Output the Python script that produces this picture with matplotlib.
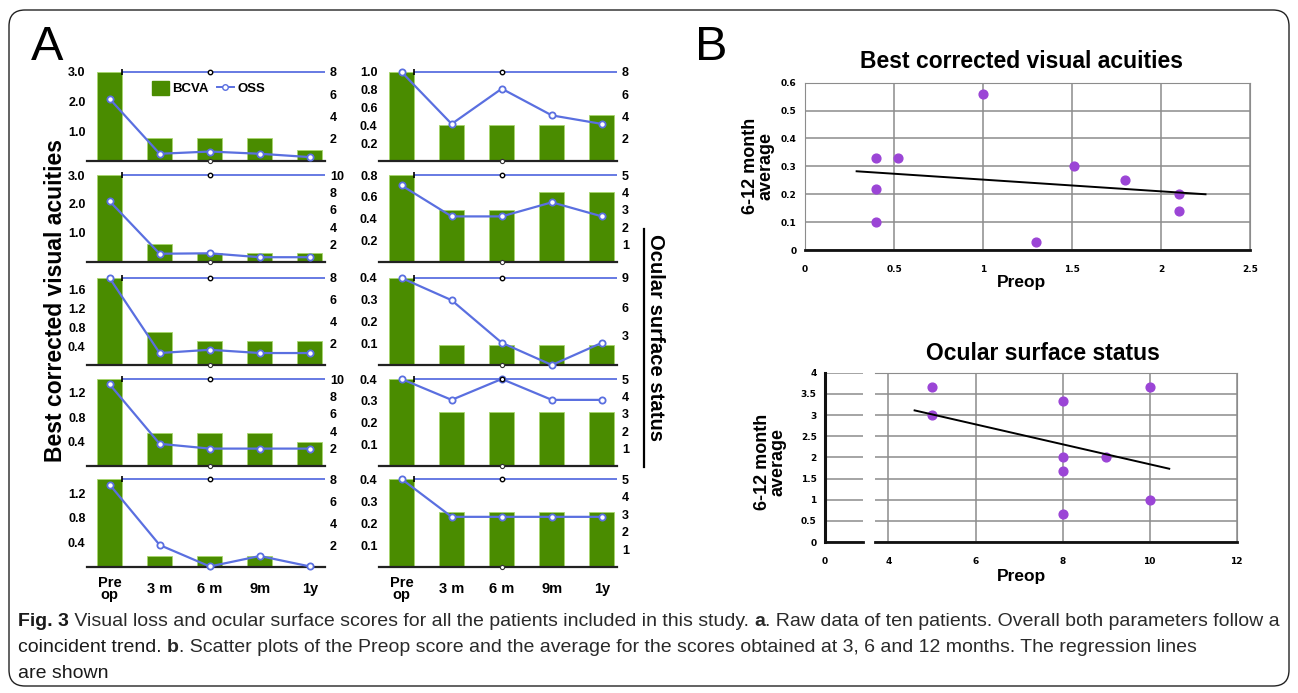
import numpy as np
import matplotlib
matplotlib.use("Agg")
import matplotlib.pyplot as plt
from matplotlib.patches import Patch, FancyBboxPatch
from matplotlib.lines import Line2D

plt.rcParams['font.family'] = ['Liberation Sans', 'DejaVu Sans']

W, H = 1298, 693

# ---- panel A data ----
categories = ['Pre\nop', '3 m', '6 m', '9m', '1y']

bcva_left = [
    [3.0, 0.78, 0.78, 0.78, 0.38],
    [3.0, 0.62, 0.30, 0.30, 0.30],
    [1.85, 0.70, 0.50, 0.50, 0.50],
    [1.43, 0.55, 0.55, 0.55, 0.40],
    [1.43, 0.18, 0.18, 0.18, 0.0],
]
oss_left = [
    [5.6, 0.65, 0.85, 0.65, 0.35],
    [7.0, 0.95, 1.0, 0.55, 0.55],
    [8.0, 1.1, 1.4, 1.1, 1.1],
    [9.4, 2.55, 2.0, 2.0, 2.0],
    [7.5, 2.0, 0.05, 1.0, 0.05],
]
bcva_right = [
    [1.0, 0.40, 0.40, 0.40, 0.52],
    [0.8, 0.48, 0.48, 0.64, 0.64],
    [0.4, 0.09, 0.09, 0.09, 0.09],
    [0.4, 0.25, 0.25, 0.25, 0.25],
    [0.4, 0.25, 0.25, 0.25, 0.25],
]
oss_right = [
    [8.0, 3.33, 6.5, 4.1, 3.33],
    [4.4, 2.62, 2.62, 3.43, 2.62],
    [9.0, 6.7, 2.3, 0.0, 2.3],
    [5.0, 3.8, 5.0, 3.8, 3.8],
    [5.0, 2.85, 2.85, 2.85, 2.85],
]

bcva_top_left = [3.0, 3.0, 1.85, 1.43, 1.43]
bcva_ticks_left = [[1.0, 2.0, 3.0], [1.0, 2.0, 3.0], [0.4, 0.8, 1.2, 1.6],
                   [0.4, 0.8, 1.2], [0.4, 0.8, 1.2]]
oss_top_left = [8, 10, 8, 10, 8]
oss_ticks_left = [[2, 4, 6, 8], [2, 4, 6, 8, 10], [2, 4, 6, 8],
                  [2, 4, 6, 8, 10], [2, 4, 6, 8]]

bcva_top_right = [1.0, 0.8, 0.4, 0.4, 0.4]
bcva_ticks_right = [[0.2, 0.4, 0.6, 0.8, 1.0], [0.2, 0.4, 0.6, 0.8],
                    [0.1, 0.2, 0.3, 0.4], [0.1, 0.2, 0.3, 0.4], [0.1, 0.2, 0.3, 0.4]]
oss_top_right = [8, 5, 9, 5, 5]
oss_ticks_right = [[2, 4, 6, 8], [1, 2, 3, 4, 5], [3, 6, 9],
                   [1, 2, 3, 4, 5], [1, 2, 3, 4, 5]]

# ---- panel B data ----
bcva_preop = [0.4, 0.4, 0.4, 0.52, 1.0, 1.3, 1.51, 1.8, 2.1, 2.1]
bcva_avg = [0.33, 0.22, 0.10, 0.33, 0.56, 0.03, 0.30, 0.25, 0.20, 0.14]
oss_preop = [5, 5, 8, 8, 8, 8, 9, 10, 10]
oss_avg = [3.67, 3.0, 3.33, 2.0, 1.67, 0.67, 2.0, 3.67, 1.0]

GREEN = '#4a8c00'
BLUE = '#5a6fe0'
PURPLE = '#9b45d6'
GRID = '#8c8c8c'

fig = plt.figure(figsize=(W / 100, H / 100), dpi=100)


def px_axes(x0, y0, x1, y1):
    return fig.add_axes([x0 / W, 1 - y1 / H, (x1 - x0) / W, (y1 - y0) / H])


bg = fig.add_axes([0, 0, 1, 1])
bg.set_xlim(0, W)
bg.set_ylim(H, 0)
bg.axis('off')
bg.add_patch(FancyBboxPatch((0.09, 0.07), 12.8, 6.76,
                            boxstyle='round,pad=0,rounding_size=0.16',
                            transform=fig.dpi_scale_trans, fill=False,
                            ec='#222222', lw=1.0))

tops = [72, 175, 278, 379, 479]
bottoms = [161, 262, 365, 466, 567]
x = np.arange(len(categories))


def bar_panel(left, right, bcva, oss, btop, bticks, otop, oticks, last, legend):
    ax = px_axes(left, tops[i], right, bottoms[i])
    ax.bar(x, bcva, width=0.5, color=GREEN, edgecolor='#a8d66e', lw=0.6, zorder=2)
    ax.set_xlim(-0.45, 4.3)
    ax.set_ylim(0, btop)
    ax.set_yticks(bticks)
    ax.set_yticklabels([f'{t:.1f}' for t in bticks], fontsize=9, fontweight='bold')
    ax.tick_params(axis='y', length=0, pad=1)
    for s in ['top', 'right', 'left']:
        ax.spines[s].set_visible(False)
    ax.spines['bottom'].set_linewidth(1.6)
    ax.spines['bottom'].set_color('#222222')
    ax.set_xticks(x)
    if last:
        ax.set_xticklabels(categories, fontsize=10.5, fontweight='bold',
                           linespacing=0.85, va='center')
        ax.tick_params(axis='x', length=0, pad=16)
    else:
        ax.set_xticklabels([])
        ax.tick_params(axis='x', length=0)
    ax.plot([2], [0], 'o', ms=3, mfc='white', mec='#333333', mew=0.8,
            clip_on=False, zorder=5)

    ax2 = ax.twinx()
    ax2.set_ylim(0, otop)
    ax2.set_yticks(oticks)
    ax2.set_yticklabels([str(t) for t in oticks], fontsize=9, fontweight='bold')
    ax2.tick_params(axis='y', length=0, pad=3.5)
    for s in ax2.spines.values():
        s.set_visible(False)
    ax2.hlines(otop, 0.25, 4.3, color=BLUE, lw=1.3, clip_on=False)
    ax2.plot([0.25], [otop], marker='|', color='black', ms=5, mew=1.2, clip_on=False)
    ax2.plot([2], [otop], 'o', ms=3.2, mfc='white', mec='black', mew=1.0,
             clip_on=False, zorder=6)
    ax2.plot(x, oss, color=BLUE, lw=1.6, marker='o', ms=4.5, mfc='white',
             mec=BLUE, mew=1.3, clip_on=False, zorder=5)
    if legend:
        handles = [Patch(color=GREEN, label='BCVA'),
                   Line2D([], [], color=BLUE, lw=1.4, marker='o', ms=4,
                          mfc='white', mec=BLUE, label='OSS')]
        ax2.legend(handles=handles, loc='center', bbox_to_anchor=(0.51, 0.82),
                   ncol=2, frameon=False, handlelength=1.3, handleheight=1.3,
                   handletextpad=0.25, columnspacing=0.6,
                   prop={'weight': 'bold', 'size': 9.5})


for i in range(5):
    bar_panel(87, 325, bcva_left[i], oss_left[i], bcva_top_left[i],
              bcva_ticks_left[i], oss_top_left[i], oss_ticks_left[i],
              i == 4, i == 0)
    bar_panel(379, 617, bcva_right[i], oss_right[i], bcva_top_right[i],
              bcva_ticks_right[i], oss_top_right[i], oss_ticks_right[i],
              i == 4, False)

bg.text(31, 47, 'A', fontsize=35, ha='left', va='center')
bg.text(695, 47, 'B', fontsize=35, ha='left', va='center')
bg.text(56, 301, 'Best corrected visual acuities', rotation=90, fontsize=16.5,
        fontweight='bold', ha='center', va='center')
bg.text(655, 337, 'Ocular surface status', rotation=270, fontsize=14.6,
        fontweight='bold', ha='center', va='center')
bg.plot([643.5, 643.5], [229, 467], color='black', lw=1.6)

# ---- panel B: BCVA scatter ----
axb = px_axes(805, 82.7, 1250, 250)
axb.set_xlim(0, 2.5)
axb.set_ylim(0, 0.6)
axb.set_xticks([0, 0.5, 1, 1.5, 2, 2.5])
axb.set_xticklabels(['0', '0.5', '1', '1.5', '2', '2.5'])
axb.set_yticks([0, 0.1, 0.2, 0.3, 0.4, 0.5, 0.6])
axb.set_yticklabels(['0', '0.1', '0.2', '0.3', '0.4', '0.5', '0.6'])
axb.grid(True, color=GRID, lw=1.1)
axb.set_axisbelow(True)
axb.scatter(bcva_preop, bcva_avg, s=40, color=PURPLE, zorder=3)
k, b0 = np.polyfit(bcva_preop, bcva_avg, 1)
xl = np.array([0.29, 2.25])
axb.plot(xl, k * xl + b0, color='black', lw=1.4, zorder=4)

# ---- panel B: OSS scatter (broken x axis) ----
axl = px_axes(825, 372.7, 863, 542)
axr = px_axes(875, 372.7, 1236.7, 542)
axl.set_xlim(0, 0.87)
axr.set_xlim(3.69, 12)
for a in (axl, axr):
    a.set_ylim(0, 4)
    a.set_yticks(np.arange(0, 4.01, 0.5))
axl.set_yticklabels(['0', '0.5', '1', '1.5', '2', '2.5', '3', '3.5', '4'])
axr.set_yticklabels([])
axl.set_xticks([0])
axl.set_xticklabels(['0'])
axr.set_xticks([4, 6, 8, 10, 12])
axr.set_xticklabels(['4', '6', '8', '10', '12'])
axr.grid(True, color=GRID, lw=1.1)
axl.grid(True, axis='y', color=GRID, lw=1.1)
axr.set_axisbelow(True)
axl.set_axisbelow(True)
axr.spines['left'].set_visible(False)
axl.spines['top'].set_visible(False)
axl.spines['right'].set_visible(False)
axr.scatter(oss_preop, oss_avg, s=40, color=PURPLE, zorder=3)
k2, b2 = np.polyfit(oss_preop, oss_avg, 1)
xl2 = np.array([4.6, 10.45])
axr.plot(xl2, k2 * xl2 + b2, color='black', lw=1.4, zorder=4)

for a in (axb, axl, axr):
    for s in ['top', 'right', 'left']:
        a.spines[s].set_color(GRID)
    a.spines['bottom'].set_linewidth(2.0)
    a.spines['bottom'].set_color('#111111')
    a.tick_params(axis='y', length=0, pad=6)
    a.tick_params(axis='x', length=0, pad=11)
    for lab in a.get_xticklabels() + a.get_yticklabels():
        lab.set_fontweight('bold')
        lab.set_fontsize(6.5)
        lab.set_family(['DejaVu Sans'])
axl.spines['left'].set_linewidth(2.2)
axl.spines['left'].set_color('#111111')

bg.text(1021, 62, 'Best corrected visual acuities', fontsize=16.5,
        fontweight='bold', ha='center', va='center')
bg.text(1043, 354, 'Ocular surface status', fontsize=16.5, fontweight='bold',
        ha='center', va='center')
bg.text(1022, 283, 'Preop', fontsize=12.5, fontweight='bold', ha='center', va='center')
bg.text(1022, 577, 'Preop', fontsize=12.5, fontweight='bold', ha='center', va='center')
bg.text(758, 166, '6-12 month\naverage', rotation=90, fontsize=13,
        fontweight='bold', ha='center', va='center', linespacing=0.9)
bg.text(770, 462, '6-12 month\naverage', rotation=90, fontsize=13,
        fontweight='bold', ha='center', va='center', linespacing=0.9)

# ---- caption ----
cap_font = ['Liberation Sans', 'DejaVu Sans']
cap_size = 12.5
segments = [
    [('Fig. 3', 'bold'), (' Visual loss and ocular surface scores for all the patients included in this study. ', 'normal'),
     ('a', 'bold'), ('. Raw data of ten patients. Overall both parameters follow a', 'normal')],
    [('coincident trend. ', 'normal'), ('b', 'bold'),
     ('. Scatter plots of the Preop score and the average for the scores obtained at 3, 6 and 12 months. The regression lines', 'normal')],
    [('are shown', 'normal')],
]
line_y = [621, 648, 673]
cap_texts = []
line_ends = []
for segs, yy in zip(segments, line_y):
    t = bg.text(18, yy, segs[0][0], fontsize=cap_size, fontweight=segs[0][1],
                family=cap_font, ha='left', va='center', color='#1a1a1a')
    cap_texts.append(t)
    for txt, wt in segs[1:]:
        t = bg.annotate(txt, xy=(1, 0), xycoords=t, xytext=(0, 0),
                        textcoords='offset points', fontsize=cap_size,
                        fontweight=wt, family=cap_font, ha='left', va='bottom',
                        color='#2a2a2a')
        cap_texts.append(t)
    line_ends.append(t)

# stretch caption so the first line runs across the box like the reference
fig.canvas.draw()
r = fig.canvas.get_renderer()
right = line_ends[0].get_window_extent(r).x1
scale = (1280 - 18) / (right - 18)
for t in cap_texts:
    t.set_fontsize(cap_size * scale)

fig.savefig('out.png', dpi=100)
